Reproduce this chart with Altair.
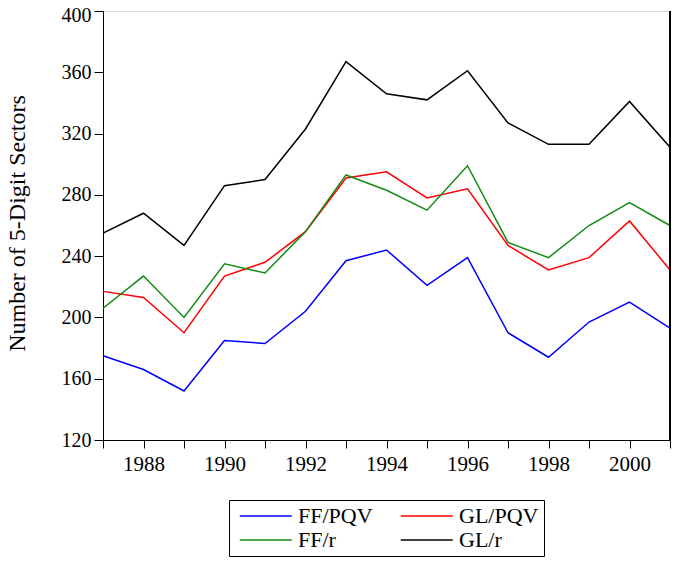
import altair as alt
import pandas as pd

years = list(range(1987, 2002))
ff_pqv = [175, 166, 152, 185, 183, 204, 237, 244, 221, 239, 190, 174, 197, 210, 193]
gl_pqv = [217, 213, 190, 227, 236, 256, 291, 295, 278, 284, 247, 231, 239, 263, 231]
ff_r = [206, 227, 200, 235, 229, 256, 293, 283, 270, 299, 249, 239, 260, 275, 260]
gl_r = [255, 268, 247, 286, 290, 323, 367, 346, 342, 361, 327, 313, 313, 341, 311]

series_names = ["FF/PQV", "GL/PQV", "FF/r", "GL/r"]
series_colors = ["#0000ff", "#ff0000", "#138a13", "#000000"]
y_ticks = [120, 160, 200, 240, 280, 320, 360, 400]

rows = []
for name, vals in zip(series_names, [ff_pqv, gl_pqv, ff_r, gl_r]):
    for y, v in zip(years, vals):
        rows.append({"year": y, "value": v, "series": name})
df = pd.DataFrame(rows)

FONT = "Liberation Serif"

x_scale = alt.Scale(domain=[1987, 2001], nice=False, zero=False)
y_scale = alt.Scale(domain=[120, 400], nice=False, zero=False)

lines = alt.Chart(df).mark_line(strokeWidth=1.5).encode(
    x=alt.X("year:Q", scale=x_scale,
            axis=alt.Axis(title=None, values=years, format="d",
                          labelExpr="datum.value % 2 == 0 ? datum.label : ''",
                          grid=False, tickSize=8, labelPadding=5,
                          labelFont=FONT, labelFontSize=21, labelColor="black",
                          domainColor="black", tickColor="black",
                          labelFlush=False)),
    y=alt.Y("value:Q", scale=y_scale,
            axis=alt.Axis(title="Number of 5-Digit Sectors", values=y_ticks,
                          grid=False, tickSize=9, labelPadding=3,
                          labelFont=FONT, labelFontSize=20, labelColor="black",
                          labelOffset=alt.expr("datum.value == 400 ? 4 : 0"),
                          domainColor="black", tickColor="black",
                          titleFont=FONT, titleFontSize=24, titleFontWeight="normal",
                          titleColor="black", titleX=-79, titleY=212,
                          titleAngle=270, titleAlign="center", titleBaseline="alphabetic")),
    color=alt.Color("series:N",
                    scale=alt.Scale(domain=series_names, range=series_colors),
                    sort=series_names,
                    legend=alt.Legend(orient="none", legendX=126, legendY=489,
                                      columns=2, direction="horizontal",
                                      title=None, symbolType="M-1,0H9",
                                      symbolSize=108, symbolStrokeWidth=1.5,
                                      labelFont=FONT, labelFontSize=22,
                                      labelColor="black", labelOffset=42,
                                      labelLimit=0,
                                      strokeColor="black", fillColor="white",
                                      padding=5, columnPadding=22,
                                      rowPadding=2)),
)

border = alt.Chart(df).mark_rule(color="black", strokeWidth=1).encode(
    x=alt.datum(2001),
    y=alt.datum(120),
    y2=alt.datum(400),
)

chart = alt.layer(lines, border).properties(
    width=567, height=429,
    autosize=alt.AutoSizeParams(type="none"),
    padding={"left": 95, "top": 3, "right": 1, "bottom": 117},
).configure_view(stroke=None).configure(background="white", font=FONT).configure_axis(
    labelFont=FONT, titleFont=FONT
).configure_legend(labelFont=FONT)

chart.save("out.html", embed_options={"renderer": "svg", "actions": False})
